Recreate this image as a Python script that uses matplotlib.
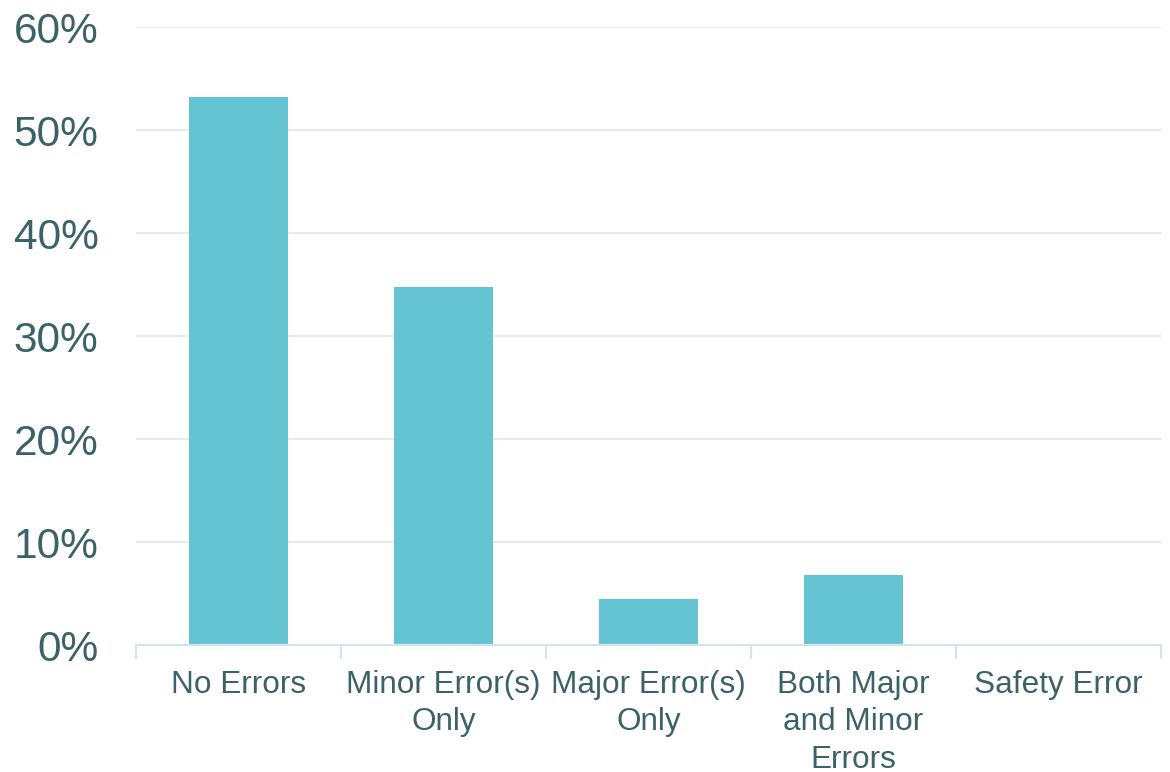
import matplotlib
matplotlib.use("Agg")
import matplotlib.pyplot as plt
import numpy as np
from matplotlib.ticker import FixedLocator, PercentFormatter

categories = ["No Errors", "Minor Error(s)\nOnly", "Major Error(s)\nOnly",
              "Both Major\nand Minor\nErrors", "Safety Error"]
shares = [53.2, 34.8, 4.5, 6.8, 0.0]
y_ticks = [0, 10, 20, 30, 40, 50, 60]

plt.rcParams["font.family"] = ["Liberation Sans", "DejaVu Sans"]

text_color = "#3b6268"
bar_color = "#64c4d2"
grid_color = "#e6ebeb"
axis_color = "#d5e3ee"

fig = plt.figure(figsize=(11.7, 7.72), dpi=100)
ax = fig.add_axes([0.1162, 0.1645, 0.8761, 0.8005])

x = np.arange(len(categories))
ax.bar(x, shares, width=0.48, color=bar_color, zorder=3)

ax.set_xlim(-0.5, len(categories) - 0.5)
ax.set_ylim(0, 60)
ax.set_yticks(y_ticks)
ax.yaxis.set_major_formatter(PercentFormatter(decimals=0))

for v in y_ticks[1:]:
    ax.axhline(v, color=grid_color, lw=1.6, zorder=1)

ax.set_xticks(x)
ax.set_xticklabels(categories, fontsize=22.7, color=text_color, linespacing=1.32)
ax.xaxis.set_minor_locator(FixedLocator(np.arange(-0.5, len(categories), 1.0)))
ax.tick_params(axis="x", which="major", length=0, pad=18)
ax.tick_params(axis="x", which="minor", length=10, width=1.5, color=axis_color)
ax.tick_params(axis="y", length=0, pad=27, labelsize=30.5, labelcolor=text_color)

for side in ["top", "right", "left"]:
    ax.spines[side].set_visible(False)
ax.spines["bottom"].set_color(axis_color)
ax.spines["bottom"].set_linewidth(1.6)
ax.spines["bottom"].set_zorder(4)

fig.savefig("out.png", dpi=100)
